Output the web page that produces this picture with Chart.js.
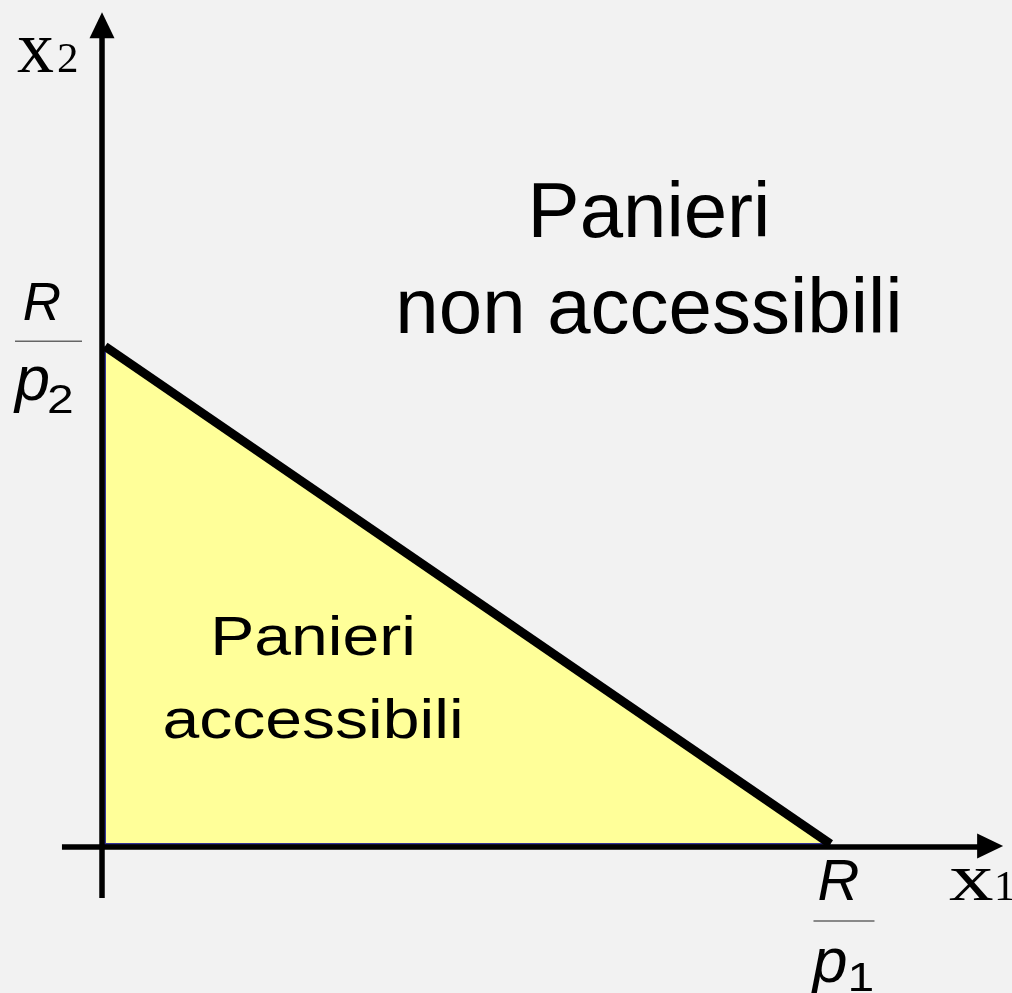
<!DOCTYPE html>
<html>
<head>
<meta charset="utf-8">
<script src="https://cdn.jsdelivr.net/npm/chart.js@4/dist/chart.umd.min.js"></script>
<style>
html,body{margin:0;padding:0;background:#f2f2f2;}
#wrap{width:1012px;height:993px;position:relative;}
</style>
</head>
<body>
<div id="wrap"><canvas id="c"></canvas></div>
<script>
// ---- data (units of the two goods) ----
const budgetX = [0, 10];          // x1 at R/p2 point and at R/p1 point
const budgetY = [7, 0];           // x2 at R/p2 point and at R/p1 point
const edgeX = [0, 0, 10];         // border of the affordable set along the axes
const edgeY = [7, 0, 0];
const xRange = [-1.447, 12.502];  // visible range of x1
const yRange = [-2.096, 11.872];  // visible range of x2
const xAxisSpan = [-0.593, 12.38];
const yAxisSpan = [-0.76, 11.70];
const axisCross = [-0.041, -0.042]; // x of vertical axis, y of horizontal axis
const axisNames = [["x", "1"], ["x", "2"]];
const interceptLabels = [["R", "p", "1"], ["R", "p", "2"]];
const regionLabels = [["Panieri", "non accessibili"], ["Panieri", "accessibili"]];

const SANS = '"Liberation Sans", Arial, Helvetica, sans-serif';
const SERIF = '"Liberation Serif", "Times New Roman", serif';

function txt(ctx, s, x, y, font, align, sx) {
  ctx.save();
  ctx.font = font;
  ctx.textAlign = align || 'left';
  ctx.textBaseline = 'alphabetic';
  ctx.fillStyle = '#000';
  ctx.translate(x, y);
  ctx.scale(sx || 1, 1);
  ctx.fillText(s, 0, 0);
  ctx.restore();
}

const decor = {
  id: 'decor',
  beforeDraw(chart) {
    const c = chart.ctx;
    c.save();
    c.fillStyle = '#f2f2f2';
    c.fillRect(0, 0, chart.width, chart.height);
    c.restore();
  },
  afterDatasetsDraw(chart) {
    const c = chart.ctx;
    const xs = chart.scales.x, ys = chart.scales.y;
    const ax = xs.getPixelForValue(axisCross[0]);
    const ay = ys.getPixelForValue(axisCross[1]);
    c.save();
    c.strokeStyle = '#000';
    c.fillStyle = '#000';
    c.lineWidth = 5.5;
    // vertical axis
    const yTop = ys.getPixelForValue(yAxisSpan[1]);
    const yBot = ys.getPixelForValue(yAxisSpan[0]);
    c.beginPath(); c.moveTo(ax, yBot); c.lineTo(ax, yTop + 20); c.stroke();
    c.beginPath(); c.moveTo(ax, yTop); c.lineTo(ax - 12.5, yTop + 26); c.lineTo(ax + 12.5, yTop + 26); c.closePath(); c.fill();
    // horizontal axis
    const xL = xs.getPixelForValue(xAxisSpan[0]);
    const xR = xs.getPixelForValue(xAxisSpan[1]);
    c.beginPath(); c.moveTo(xL, ay); c.lineTo(xR - 20, ay); c.stroke();
    c.beginPath(); c.moveTo(xR, ay - 1); c.lineTo(xR - 26, ay - 13.5); c.lineTo(xR - 26, ay + 11.5); c.closePath(); c.fill();
    c.restore();

    // axis names
    txt(c, axisNames[1][0], ax - 85, 72, '74px ' + SERIF, 'left', 1);
    txt(c, axisNames[1][1], ax - 45, 72, '43px ' + SERIF, 'left', 1);
    txt(c, axisNames[0][0], 949, 900, '67px ' + SERIF, 'left', 1.33);
    txt(c, axisNames[0][1], 994, 900, '43px ' + SERIF, 'left', 1);

    // intercept labels as fractions
    const y2 = ys.getPixelForValue(budgetY[0]);
    txt(c, interceptLabels[1][0], 42, y2 - 26, 'italic 53px ' + SANS, 'center', 1);
    c.save(); c.strokeStyle = '#666'; c.lineWidth = 1.5;
    c.beginPath(); c.moveTo(15, y2 - 5); c.lineTo(82, y2 - 5); c.stroke(); c.restore();
    txt(c, interceptLabels[1][1], 15, y2 + 54, 'italic 63px ' + SANS, 'left', 1);
    txt(c, interceptLabels[1][2], 47, y2 + 67, '40px ' + SANS, 'left', 1.2);

    const x1 = xs.getPixelForValue(budgetX[1]);
    txt(c, interceptLabels[0][0], x1 + 8, 900, 'italic 58px ' + SANS, 'center', 1);
    c.save(); c.strokeStyle = '#666'; c.lineWidth = 1.5;
    c.beginPath(); c.moveTo(x1 - 17, 921); c.lineTo(x1 + 44, 921); c.stroke(); c.restore();
    txt(c, interceptLabels[0][1], x1 - 18, 982, 'italic 63px ' + SANS, 'left', 1);
    txt(c, interceptLabels[0][2], x1 + 17, 991, '40px ' + SANS, 'left', 1.2);

    // region labels
    txt(c, regionLabels[0][0], 649, 237, '78px ' + SANS, 'center', 1);
    txt(c, regionLabels[0][1], 649, 333, '78px ' + SANS, 'center', 1);
    txt(c, regionLabels[1][0], 313, 655, '56px ' + SANS, 'center', 1.18);
    txt(c, regionLabels[1][1], 313, 738, '56px ' + SANS, 'center', 1.18);
  }
};

new Chart(document.getElementById('c'), {
  type: 'line',
  data: {
    datasets: [
      {
        label: 'Vincolo di bilancio',
        data: budgetX.map((x, i) => ({ x: x, y: budgetY[i] })),
        fill: 'origin',
        backgroundColor: '#ffff99',
        borderColor: '#000000',
        borderWidth: 9,
        pointRadius: 0,
        tension: 0,
        order: 0
      },
      {
        label: 'bordo',
        data: edgeX.map((x, i) => ({ x: x, y: edgeY[i] })),
        fill: false,
        borderColor: '#333399',
        borderWidth: 2,
        pointRadius: 0,
        tension: 0,
        order: 1
      }
    ]
  },
  options: {
    responsive: true,
    maintainAspectRatio: false,
    animation: false,
    events: [],
    layout: { padding: 0 },
    plugins: {
      legend: { display: false },
      tooltip: { enabled: false },
      filler: { drawTime: 'beforeDatasetsDraw' }
    },
    scales: {
      x: { type: 'linear', display: false, min: xRange[0], max: xRange[1] },
      y: { type: 'linear', display: false, min: yRange[0], max: yRange[1] }
    }
  },
  plugins: [decor]
});
</script>
</body>
</html>
